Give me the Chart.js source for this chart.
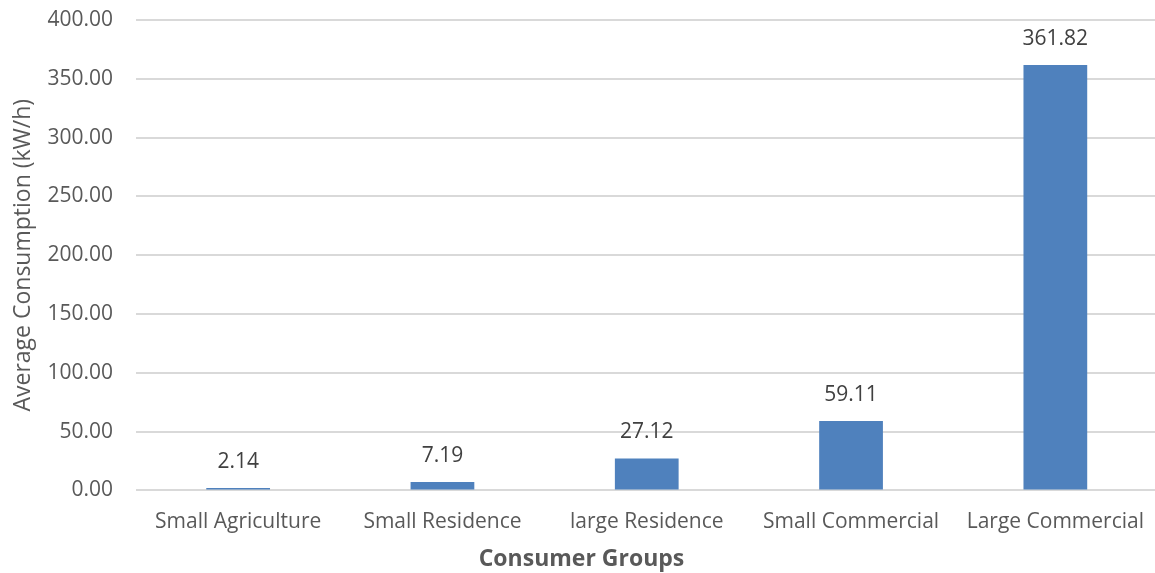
<!DOCTYPE html>
<html>
<head>
<meta charset="utf-8">
<script src="https://cdn.jsdelivr.net/npm/chart.js@4/dist/chart.umd.min.js"></script>
<style>
  html, body { margin: 0; padding: 0; background: #fff; overflow: hidden; }
  canvas { display: block; }
</style>
</head>
<body>
<canvas id="c" width="1163" height="573"></canvas>
<script>
// Consumer groups and their average consumption
const categories = ["Small Agriculture", "Small Residence", "large Residence", "Small Commercial", "Large Commercial"];
const consumption = [2.14, 7.19, 27.12, 59.11, 361.82];
const yTicks = [0, 50, 100, 150, 200, 250, 300, 350, 400];

const FONT = "'Open Sans', 'Liberation Sans', sans-serif";

// Writes each bar's value above it
const valueLabels = {
  id: 'valueLabels',
  afterDatasetsDraw(chart) {
    const ctx = chart.ctx;
    const meta = chart.getDatasetMeta(0);
    ctx.save();
    ctx.font = "21px " + FONT;
    ctx.fillStyle = '#404040';
    ctx.textAlign = 'center';
    ctx.textBaseline = 'middle';
    meta.data.forEach((bar, i) => {
      ctx.fillText(consumption[i].toFixed(2), bar.x, bar.y - 26);
    });
    ctx.restore();
  }
};

new Chart(document.getElementById('c'), {
  type: 'bar',
  data: {
    labels: categories,
    datasets: [{
      data: consumption,
      backgroundColor: '#4F81BD',
      borderWidth: 0,
      barPercentage: 0.312,
      categoryPercentage: 1.0
    }]
  },
  options: {
    responsive: false,
    devicePixelRatio: 1,
    animation: false,
    layout: { padding: { top: 20, left: 0, right: 0, bottom: 0 } },
    plugins: {
      legend: { display: false },
      tooltip: { enabled: false },
      title: {
        display: true,
        position: 'bottom',
        text: 'Consumer Groups',
        color: '#595959',
        font: { family: FONT, size: 23, weight: 'bold' },
        padding: { top: 0, bottom: 0 }
      }
    },
    scales: {
      x: {
        grid: { display: false, drawTicks: false },
        border: { display: false },
        ticks: { color: '#595959', font: { family: FONT, size: 21 }, padding: 19, maxRotation: 0, autoSkip: false },
        afterFit(scale) { scale.height = 55; }
      },
      y: {
        min: 0, max: 400,
        afterBuildTicks(scale) { scale.ticks = yTicks.map(v => ({ value: v })); },
        grid: { color: '#D9D9D9', lineWidth: 2, drawTicks: false },
        border: { display: false },
        ticks: { color: '#595959', font: { family: FONT, size: 21 }, padding: 23, callback: v => Number(v).toFixed(2) },
        title: { display: true, text: 'Average Consumption (kW/h)', color: '#595959', font: { family: FONT, size: 23 }, padding: { top: 10, bottom: 0 } },
        afterFit(scale) { scale.width = 136; scale.paddingTop = 0; scale.paddingBottom = 0; }
      }
    }
  },
  plugins: [valueLabels]
});
</script>
</body>
</html>
